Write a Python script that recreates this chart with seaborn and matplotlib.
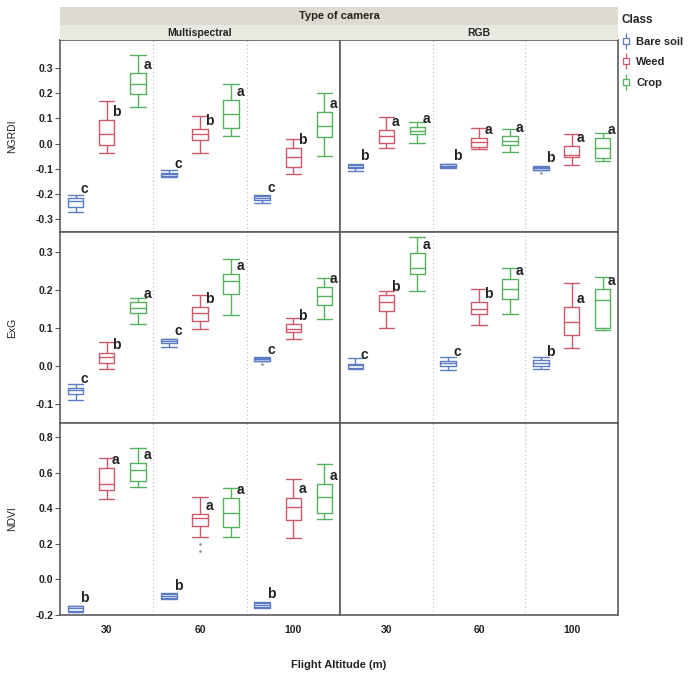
import numpy as np
import pandas as pd
import matplotlib.pyplot as plt
import seaborn as sns
from matplotlib.lines import Line2D
from matplotlib.path import Path
from matplotlib.ticker import FormatStrFormatter


# ==========================================
# DATA
# ==========================================

altitudes = ["30", "60", "100"]
classes = ["Bare soil", "Weed", "Crop"]
cameras = ["Multispectral", "RGB"]
indices = ["NGRDI", "ExG", "NDVI"]

# box summaries: [low whisker, Q1, median, Q3, high whisker]
# order: 30 m (bare soil, weed, crop), 60 m (...), 100 m (...)
ngrdi_ms = [
    [-0.269, -0.250, -0.228, -0.214, -0.202],
    [-0.036, -0.007, 0.038, 0.093, 0.168],
    [0.144, 0.196, 0.237, 0.279, 0.352],
    [-0.134, -0.127, -0.122, -0.115, -0.104],
    [-0.038, 0.014, 0.038, 0.058, 0.109],
    [0.029, 0.060, 0.117, 0.172, 0.234],
    [-0.237, -0.222, -0.215, -0.209, -0.205],
    [-0.119, -0.093, -0.053, -0.018, 0.017],
    [-0.049, 0.026, 0.069, 0.124, 0.200],
]
ngrdi_rgb = [
    [-0.108, -0.098, -0.091, -0.084, -0.081],
    [-0.018, 0.002, 0.029, 0.054, 0.105],
    [0.004, 0.037, 0.051, 0.064, 0.086],
    [-0.095, -0.092, -0.087, -0.082, -0.080],
    [-0.022, -0.012, 0.008, 0.021, 0.060],
    [-0.032, -0.007, 0.012, 0.029, 0.056],
    [-0.105, -0.103, -0.097, -0.091, -0.090],
    [-0.084, -0.054, -0.045, -0.009, 0.037],
    [-0.067, -0.056, -0.017, 0.021, 0.041],
]
exg_ms = [
    [-0.090, -0.074, -0.064, -0.057, -0.048],
    [-0.009, 0.007, 0.023, 0.033, 0.062],
    [0.110, 0.139, 0.153, 0.168, 0.179],
    [0.049, 0.059, 0.065, 0.070, 0.072],
    [0.096, 0.117, 0.138, 0.154, 0.186],
    [0.133, 0.188, 0.222, 0.242, 0.281],
    [0.013, 0.014, 0.018, 0.021, 0.024],
    [0.070, 0.090, 0.098, 0.110, 0.125],
    [0.123, 0.161, 0.183, 0.207, 0.232],
]
exg_rgb = [
    [-0.009, -0.006, 0.002, 0.006, 0.021],
    [0.100, 0.145, 0.167, 0.186, 0.197],
    [0.196, 0.241, 0.258, 0.297, 0.338],
    [-0.011, 0.000, 0.007, 0.014, 0.023],
    [0.107, 0.137, 0.149, 0.168, 0.203],
    [0.137, 0.177, 0.201, 0.228, 0.257],
    [-0.007, 0.000, 0.009, 0.016, 0.023],
    [0.046, 0.081, 0.116, 0.154, 0.219],
    [0.095, 0.101, 0.172, 0.201, 0.233],
]
ndvi_ms = [
    [-0.185, -0.176, -0.163, -0.152, -0.148],
    [0.449, 0.503, 0.535, 0.626, 0.681],
    [0.520, 0.554, 0.613, 0.654, 0.737],
    [-0.110, -0.107, -0.092, -0.082, -0.079],
    [0.237, 0.302, 0.345, 0.367, 0.462],
    [0.237, 0.296, 0.371, 0.457, 0.515],
    [-0.159, -0.155, -0.144, -0.131, -0.125],
    [0.233, 0.335, 0.404, 0.459, 0.561],
    [0.341, 0.375, 0.464, 0.535, 0.647],
]

# significance letters, same box order
ngrdi_ms_letters = ["c", "b", "a", "c", "b", "a", "c", "b", "a"]
ngrdi_rgb_letters = ["b", "a", "a", "b", "a", "a", "b", "a", "a"]
exg_ms_letters = ["c", "b", "a", "c", "b", "a", "c", "b", "a"]
exg_rgb_letters = ["c", "b", "a", "c", "b", "a", "b", "a", "a"]
ndvi_ms_letters = ["b", "a", "a", "b", "a", "a", "b", "a", "a"]

# outlier points
outlier_index = ["NGRDI", "ExG", "NDVI", "NDVI"]
outlier_camera = ["RGB", "Multispectral", "Multispectral", "Multispectral"]
outlier_altitude = ["100", "100", "60", "60"]
outlier_class = ["Bare soil", "Bare soil", "Weed", "Weed"]
outlier_value = [-0.117, 0.004, 0.199, 0.158]

ngrdi_ticks = [-0.3, -0.2, -0.1, 0.0, 0.1, 0.2, 0.3]
exg_ticks = [-0.1, 0.0, 0.1, 0.2, 0.3]
ndvi_ticks = [-0.2, 0.0, 0.2, 0.4, 0.6, 0.8]

palette = {"Bare soil": "#5b7cc4", "Weed": "#cf5869", "Crop": "#56b25e"}

panels = {
    ("NGRDI", "Multispectral"): (ngrdi_ms, ngrdi_ms_letters),
    ("NGRDI", "RGB"): (ngrdi_rgb, ngrdi_rgb_letters),
    ("ExG", "Multispectral"): (exg_ms, exg_ms_letters),
    ("ExG", "RGB"): (exg_rgb, exg_rgb_letters),
    ("NDVI", "Multispectral"): (ndvi_ms, ndvi_ms_letters),
}
ylims = {"NGRDI": (-0.35, 0.41), "ExG": (-0.15, 0.352), "NDVI": (-0.2, 0.878)}
yticks = {"NGRDI": ngrdi_ticks, "ExG": exg_ticks, "NDVI": ndvi_ticks}

rows = []
for (idx, cam), (boxes, _) in panels.items():
    for k, stats in enumerate(boxes):
        for v in stats:
            rows.append({"index": idx, "camera": cam, "altitude": altitudes[k // 3],
                         "cls": classes[k % 3], "value": v})
df = pd.DataFrame(rows)


# ==========================================
# PLOT
# ==========================================

sns.set_style("ticks")
plt.rcParams["font.family"] = ["Liberation Sans", "DejaVu Sans"]
plt.rcParams["axes.unicode_minus"] = False

W, H = 689, 677
fig = plt.figure(figsize=(W / 100, H / 100), dpi=100)


def px_axes(x0, y0, x1, y1):
    return fig.add_axes([x0 / W, 1 - y1 / H, (x1 - x0) / W, (y1 - y0) / H])


col_x = [(60, 340), (340, 618)]
row_y = [(40, 232), (232, 423), (423, 615)]
box_kws = dict(x="altitude", y="value", hue="cls", order=altitudes, hue_order=classes,
               palette=palette, fill=False, width=1.0, gap=0.5, dodge=True, legend=False)

for r, idx in enumerate(indices):
    for c, cam in enumerate(cameras):
        ax = px_axes(col_x[c][0], row_y[r][0], col_x[c][1], row_y[r][1])
        sub = df[(df["index"] == idx) & (df["camera"] == cam)]
        if len(sub):
            sns.boxplot(data=sub, whis=np.inf, linewidth=1.0, ax=ax, **box_kws)
            # stretch whisker caps to the full box width
            for ln in ax.lines:
                xd, yd = np.asarray(ln.get_xdata(), float), np.asarray(ln.get_ydata(), float)
                if len(xd) == 2 and yd[0] == yd[1] and 0 < xd[1] - xd[0] < 0.12:
                    mid = xd.mean()
                    ln.set_xdata([mid - (mid - xd[0]) * 2, mid + (xd[1] - mid) * 2])

            boxes, letters = panels[(idx, cam)]
            for k, letter in enumerate(letters):
                xpos = k // 3 + (k % 3 - 1) / 3 + 1 / 12
                ax.annotate(letter, xy=(xpos, boxes[k][3]), xytext=(1, 6),
                            textcoords="offset points", ha="center", va="center",
                            fontsize=10, fontweight="bold", color="#222222")

        for i in range(len(outlier_value)):
            if outlier_index[i] == idx and outlier_camera[i] == cam:
                od = pd.DataFrame({"altitude": [outlier_altitude[i]],
                                   "cls": [outlier_class[i]],
                                   "value": [outlier_value[i]]})
                sns.boxplot(data=od, ax=ax, showbox=False, showcaps=False,
                            showfliers=False, whiskerprops={"visible": False},
                            medianprops={"visible": False}, showmeans=True,
                            meanprops=dict(marker="o", markersize=2,
                                           markerfacecolor="#9a9a9a",
                                           markeredgecolor="none"),
                            **box_kws)

        ax.set_xlim(-0.5, 2.5)
        ax.set_ylim(ylims[idx])
        ax.set_yticks(yticks[idx])
        for xv in (0.5, 1.5):
            ax.axvline(xv, color="#b8b8b8", lw=0.8, ls=(0, (1, 2.5)), zorder=0)
        ax.set_xlabel("")
        ax.set_ylabel("")

        if c == 0:
            ax.yaxis.set_major_formatter(FormatStrFormatter("%.1f"))
            ax.tick_params(axis="y", left=True, length=3.5, width=0.8,
                           color="#555555", labelsize=7.5, pad=1.5,
                           labelcolor="#222222")
            for lab in ax.get_yticklabels():
                lab.set_fontweight("bold")
        else:
            ax.tick_params(axis="y", left=False, labelleft=False)

        if r == 2:
            ax.set_xticks([0, 1, 2])
            ax.set_xticklabels(altitudes)
            ax.tick_params(axis="x", bottom=False, labelsize=7.5, pad=4,
                           labelcolor="#222222")
            for lab in ax.get_xticklabels():
                lab.set_fontweight("bold")
        else:
            ax.tick_params(axis="x", bottom=False, labelbottom=False)

        for sp in ax.spines.values():
            sp.set_visible(True)
            sp.set_color("#5c5c5c")
            sp.set_linewidth(1.2)

    ymid = (row_y[r][0] + row_y[r][1]) / 2
    fig.text(12 / W, 1 - ymid / H, idx, rotation=90, ha="center", va="center",
             fontsize=7.5, color="#222222")

# header strips
top = px_axes(60, 7, 618, 25)
top.set_facecolor("#dddbd1")
top.text(0.5, 0.5, "Type of camera", ha="center", va="center", fontsize=8,
         fontweight="bold", transform=top.transAxes, color="#222222")
for c, cam in enumerate(cameras):
    s = px_axes(col_x[c][0], 25, col_x[c][1], 40)
    s.set_facecolor("#e9e8e1")
    s.text(0.5, 0.5, cam, ha="center", va="center", fontsize=7.5,
           fontweight="bold", transform=s.transAxes, color="#222222")
for s in fig.axes[-3:]:
    s.set_xticks([])
    s.set_yticks([])
    for sp in s.spines.values():
        sp.set_visible(False)

fig.text(339 / W, 1 - 665 / H, "Flight Altitude (m)", ha="center", va="center",
         fontsize=8, fontweight="bold", color="#222222")

# legend with small box glyphs
verts = [(0, -1), (0, -0.45), (-0.4, -0.45), (0.4, -0.45), (0.4, 0.45),
         (-0.4, 0.45), (-0.4, -0.45), (0, 0.45), (0, 1)]
codes = [Path.MOVETO, Path.LINETO, Path.MOVETO, Path.LINETO, Path.LINETO,
         Path.LINETO, Path.LINETO, Path.MOVETO, Path.LINETO]
glyph = Path(verts, codes)
handles = [Line2D([], [], marker=glyph, markersize=11, markerfacecolor="none",
                  markeredgecolor=palette[k], markeredgewidth=0.9, linestyle="none")
           for k in classes]
leg = fig.legend(handles=handles, labels=classes, title="Class", loc="upper left",
                 bbox_to_anchor=(622 / W, 1 - 14 / H), frameon=False, fontsize=8,
                 title_fontsize=8.5, handlelength=0.8, handletextpad=0.5,
                 labelspacing=0.95, borderaxespad=0, borderpad=0)
leg._legend_box.align = "left"
leg.get_title().set_fontweight("bold")
for t in leg.get_texts():
    t.set_fontweight("bold")

plt.savefig("out.png", dpi=100)
